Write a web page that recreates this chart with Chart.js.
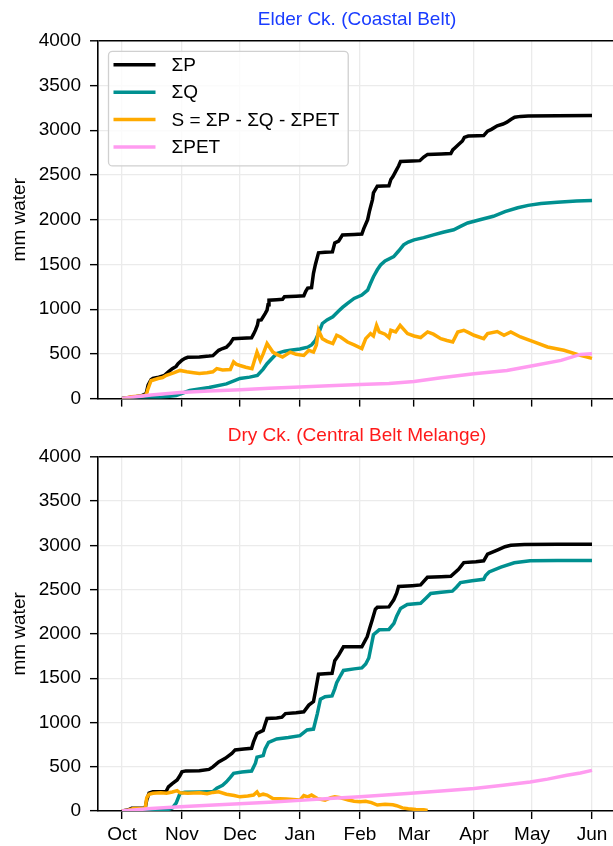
<!DOCTYPE html>
<html>
<head>
<meta charset="utf-8">
<script src="https://cdn.jsdelivr.net/npm/chart.js@4.4.1/dist/chart.umd.min.js"></script>
<style>
  html, body { margin: 0; padding: 0; background: #fff; width: 613px; height: 846px; overflow: hidden; }
  .panel { position: absolute; left: 0; width: 620px; }
  #top { top: 0; height: 419px; }
  #bottom { top: 416px; height: 430px; }
</style>
</head>
<body>
<div class="panel" id="top"><canvas id="chartTop" width="620" height="419"></canvas></div>
<div class="panel" id="bottom"><canvas id="chartBottom" width="620" height="430"></canvas></div>
<script>
// dias desde el 1 de octubre (año hidrológico)
const monthDays = [0, 31, 61, 92, 123, 151, 182, 212, 243];
const monthLabels = ['Oct', 'Nov', 'Dec', 'Jan', 'Feb', 'Mar', 'Apr', 'May', 'Jun'];
const seriesLabels = ['ΣP', 'ΣQ', 'S = ΣP - ΣQ - ΣPET', 'ΣPET'];
const seriesColors = ['#000000', '#009090', '#ffaa00', '#ff9cf0'];

// Elder Ck. (Coastal Belt) - [dia, mm]
const elderP = [[0,0],[5,15],[10,30],[12.5,55],[13.5,150],[15,210],[16,225],[19,240],[22,260],[24,300],[26,335],[28,360],[29,390],[31,430],[32.6,450],[34,462],[40,465],[45,475],[47,480],[49,520],[50,540],[52,560],[54,575],[56,620],[57.5,670],[62,675],[67,680],[68,720],[69,765],[70,820],[70.5,875],[72,880],[74,950],[75,990],[75.5,1050],[76,1100],[80,1105],[83,1110],[84,1140],[90,1145],[94,1150],[95,1200],[96,1235],[98,1240],[99,1400],[100,1500],[101.6,1630],[105,1635],[108.8,1640],[110,1740],[112,1760],[114,1830],[120,1835],[124,1840],[125,1900],[127,2000],[128,2100],[129.5,2225],[130,2300],[132,2375],[135,2378],[138,2380],[139,2450],[140,2480],[141.5,2540],[143,2600],[144,2650],[150,2655],[154,2660],[156,2700],[158,2730],[165,2735],[170,2740],[171,2780],[172.5,2810],[174,2840],[176,2880],[177,2920],[179,2935],[184,2938],[187,2940],[189,2990],[191,3010],[194,3050],[197,3070],[199,3090],[201,3120],[203,3145],[206,3155],[210,3160],[225,3163],[243,3165]];
const elderQ = [[0,0],[10,5],[20,15],[28,35],[35,90],[45,125],[54,165],[61,225],[66,240],[70,260],[73,330],[75,390],[78,460],[80,505],[84,530],[87,540],[92,555],[96,575],[98,600],[100,650],[102,750],[103.6,840],[106,880],[109,915],[112,980],[114,1020],[116.6,1065],[120,1120],[124,1157],[127,1213],[128.5,1290],[130,1363],[132,1440],[133.7,1494],[136,1540],[140.5,1588],[143,1650],[145.6,1719],[148,1750],[151,1775],[156,1800],[161,1831],[166,1860],[171.5,1888],[175,1925],[178.7,1963],[185,2000],[192,2038],[198,2090],[204.6,2133],[210,2160],[216.6,2180],[225,2195],[235,2208],[243,2215]];
const elderS = [[0,0],[5,20],[10,30],[12.5,40],[13.5,112],[15,200],[18.7,225],[21,235],[23,260],[27,290],[30,315],[33.5,300],[37,290],[40,280],[44,290],[47,300],[49,335],[52,320],[56,325],[57.7,410],[59,385],[61,370],[64,350],[67.2,335],[69.8,520],[71.5,427],[73,500],[75,615],[78,520],[80,495],[83,465],[87,520],[90,495],[94,483],[96.6,540],[99,520],[100.5,600],[101.6,764],[103.6,670],[106,640],[109,615],[111,708],[113,689],[116.6,633],[120,600],[124,560],[126,670],[128.5,727],[130,700],[131.6,820],[133,745],[136,720],[138,683],[139,764],[141.5,745],[143.8,820],[147.6,727],[151,700],[154.4,683],[158,745],[161,720],[164.8,670],[168,650],[171,633],[173.6,745],[176.7,764],[179,740],[182,708],[187,670],[189,727],[194,750],[197.5,708],[201,745],[206,689],[213,633],[220,577],[228.5,540],[237,483],[243,450]];
const elderPET = [[0,0],[15,40],[30,68],[45,85],[61,100],[76,115],[92,130],[107,143],[123,157],[138,170],[151,190],[165,232],[182,277],[199,315],[213,370],[227,427],[237,494],[243,502]];

// Dry Ck. (Central Belt Melange) - [dia, mm]
const dryP = [[0,0],[3,11],[5,30],[12,33],[12.8,124],[14,202],[16,217],[22.8,220],[24,273],[26,310],[28.5,350],[30,400],[31,442],[33,453],[40,455],[45,470],[47,498],[50,554],[53.4,595],[56.8,651],[58.5,690],[63,700],[67,708],[68,780],[69.8,876],[73,910],[74,980],[75,1045],[80,1050],[82.7,1060],[84.5,1100],[90,1110],[94,1120],[96.6,1196],[99,1236],[100,1350],[101.6,1545],[105,1550],[108.6,1555],[110,1697],[112,1760],[114.5,1854],[120,1855],[124,1855],[126.8,1970],[128,2060],[129.4,2160],[131,2280],[132,2300],[138,2305],[140.5,2385],[142,2460],[143,2535],[150,2545],[154.4,2553],[157.9,2640],[165,2645],[170,2650],[174,2730],[176.7,2805],[183,2815],[187,2825],[189,2900],[194,2947],[198,2985],[201,3000],[208,3010],[225,3012],[243,3012]];
const dryQ = [[0,0],[15,2],[23,10],[26,33],[28,90],[30,200],[32.6,213],[40,215],[47,220],[49,258],[52,290],[54,330],[56,380],[57.7,425],[62,440],[67,451],[69,540],[69.8,608],[73,625],[74,700],[75.8,776],[80,814],[86,830],[92,851],[95.7,915],[99,925],[101,1100],[102.6,1262],[105,1290],[108.6,1299],[110,1380],[111,1448],[113,1530],[114.5,1587],[120,1605],[124,1616],[126,1660],[127.6,1728],[129,1880],[130,1990],[133,2046],[138,2050],[140.6,2120],[142,2200],[144,2288],[147.5,2333],[154.4,2345],[157,2400],[159.6,2456],[165,2470],[170.8,2483],[173,2530],[175,2580],[181,2600],[187,2617],[188,2660],[189.8,2699],[195.9,2755],[202.8,2803],[211,2826],[225,2830],[243,2830]];
const dryS = [[0,0],[3,10],[6,28],[12,30],[12.8,150],[14,190],[16,200],[20,205],[23,200],[26,215],[28.5,230],[30,205],[34,200],[40,205],[44,195],[47,210],[50,216],[54,190],[58,175],[61,160],[65,170],[68,180],[69.8,215],[71,175],[73,190],[75,180],[78,142],[85,135],[92,123],[94,175],[96,160],[98,180],[101,140],[105,123],[108,150],[110,160],[113,150],[117,125],[120,110],[123,104],[126,110],[129,95],[132,67],[136,75],[140,70],[142,60],[145,35],[148,25],[152,18],[156,15],[158,5]];
const dryPET = [[0,0],[15,28],[30,48],[45,65],[58,78],[76,100],[92,120],[107,140],[123,160],[147.5,198],[165,225],[182,254],[197,290],[211,328],[220,360],[230,403],[237,430],[243,459]];

const FONT = { family: '"Liberation Sans", Arial, sans-serif', size: 19 };

// leyenda dibujada dentro del area del grafico (esquina superior izquierda)
const insideLegend = {
    id: 'insideLegend',
    afterDatasetsDraw(chart, args, opts) {
        if (!opts.show) return;
        const ctx = chart.ctx;
        const area = chart.chartArea;
        const x0 = area.left + 10.5;
        const y0 = area.top + 10.5;
        const rowH = 27.4;
        ctx.save();
        ctx.font = FONT.size + 'px ' + FONT.family;
        let maxW = 0;
        chart.data.datasets.forEach(ds => { maxW = Math.max(maxW, ctx.measureText(ds.label).width); });
        const w = 63 + maxW + 9;
        const h = rowH * 4 + 5;
        ctx.beginPath();
        ctx.roundRect(x0, y0, w, h, 4);
        ctx.fillStyle = 'rgba(255,255,255,0.8)';
        ctx.fill();
        ctx.strokeStyle = '#d0d0d0';
        ctx.lineWidth = 1.3;
        ctx.stroke();
        chart.data.datasets.forEach((ds, i) => {
            const y = y0 + 13.5 + i * rowH;
            ctx.beginPath();
            ctx.moveTo(x0 + 5, y);
            ctx.lineTo(x0 + 47, y);
            ctx.strokeStyle = ds.borderColor;
            ctx.lineWidth = 3.5;
            ctx.stroke();
            ctx.fillStyle = '#000';
            ctx.textBaseline = 'middle';
            ctx.fillText(ds.label, x0 + 63, y + 1);
        });
        ctx.restore();
    }
};

function toPoints(pairs) {
    return pairs.map(p => ({ x: p[0], y: p[1] }));
}

function makePanel(canvasId, title, titleColor, series, showXLabels, showLegend) {
    const datasets = series.map((s, i) => ({
        label: seriesLabels[i],
        data: toPoints(s),
        borderColor: seriesColors[i],
        backgroundColor: seriesColors[i],
        borderWidth: 3.5,
        pointRadius: 0,
        tension: 0,
        fill: false,
        order: series.length - i
    }));

    return new Chart(document.getElementById(canvasId), {
        type: 'line',
        data: { datasets },
        plugins: [insideLegend],
        options: {
            responsive: false,
            animation: false,
            layout: { padding: { right: 4 } },
            plugins: {
                legend: { display: false },
                tooltip: { enabled: false },
                insideLegend: { show: showLegend },
                title: {
                    display: true,
                    text: title,
                    color: titleColor,
                    fullSize: false,
                    font: { family: FONT.family, size: 19, weight: 'normal' },
                    padding: { top: 8, bottom: 10 }
                }
            },
            scales: {
                x: {
                    type: 'linear',
                    min: -12.4,
                    max: 255.4,
                    afterBuildTicks: scale => { scale.ticks = monthDays.map(v => ({ value: v })); },
                    afterFit: scale => { scale.height = showXLabels ? 35 : 10; },
                    ticks: {
                        display: showXLabels,
                        autoSkip: false,
                        maxRotation: 0,
                        color: '#000',
                        font: FONT,
                        padding: 4,
                        callback: v => monthLabels[monthDays.indexOf(v)]
                    },
                    grid: { color: '#ebebeb', lineWidth: 1.3, tickColor: '#000', tickLength: 8, tickWidth: 1.4 },
                    border: { color: '#000', width: 1.6 }
                },
                y: {
                    min: 0,
                    max: 4000,
                    afterFit: scale => { scale.width = 98; },
                    ticks: { stepSize: 500, color: '#000', font: FONT, padding: 9, callback: v => String(v) },
                    grid: {
                        color: c => (c.tick && c.tick.value === 4000) ? '#000' : '#ebebeb',
                        lineWidth: c => (c.tick && c.tick.value === 4000) ? 1.6 : 1.3,
                        tickColor: '#000',
                        tickLength: 8,
                        tickWidth: 1.4
                    },
                    border: { color: '#000', width: 1.6 },
                    title: { display: true, text: 'mm water', color: '#000', font: { family: FONT.family, size: 19 }, padding: { top: 8, bottom: 0 } }
                }
            }
        }
    });
}

makePanel('chartTop', 'Elder Ck. (Coastal Belt)', '#1a3cff', [elderP, elderQ, elderS, elderPET], false, true);
makePanel('chartBottom', 'Dry Ck. (Central Belt Melange)', '#ff1a1a', [dryP, dryQ, dryS, dryPET], true, false);
</script>
</body>
</html>
